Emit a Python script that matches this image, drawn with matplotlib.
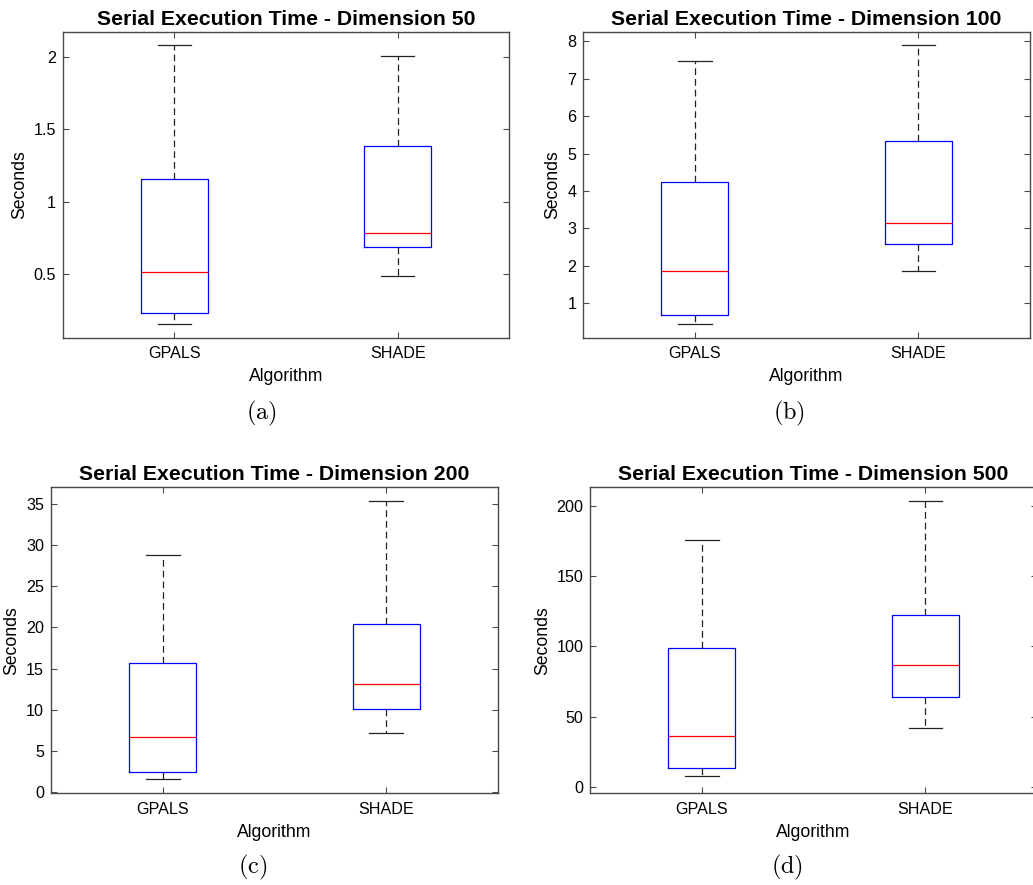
import matplotlib
matplotlib.use("Agg")
import matplotlib.pyplot as plt

# --- data (seconds) ---
algorithms = ["GPALS", "SHADE"]
dimensions = [50, 100, 200, 500]
panel_tags = ["(a)", "(b)", "(c)", "(d)"]

# per dimension: [GPALS, SHADE]
whisker_low = [[0.155, 0.484], [0.447, 1.855], [1.51, 7.11], [7.4, 41.6]]
q1 = [[0.23, 0.689], [0.696, 2.576], [2.40, 10.03], [13.3, 64.1]]
median = [[0.514, 0.785], [1.863, 3.154], [6.66, 13.08], [36.1, 86.7]]
q3 = [[1.155, 1.385], [4.24, 5.336], [15.64, 20.39], [98.8, 122.1]]
whisker_high = [[2.08, 2.01], [7.47, 7.893], [28.87, 35.4], [175.9, 203.8]]

y_ticks = [
    [0.5, 1, 1.5, 2],
    [1, 2, 3, 4, 5, 6, 7, 8],
    [0, 5, 10, 15, 20, 25, 30, 35],
    [0, 50, 100, 150, 200],
]
y_tick_labels = [
    ["0.5", "1", "1.5", "2"],
    ["1", "2", "3", "4", "5", "6", "7", "8"],
    ["0", "5", "10", "15", "20", "25", "30", "35"],
    ["0", "50", "100", "150", "200"],
]
y_limits = [(0.06, 2.175), (0.081, 8.257), (-0.19, 37.07), (-4.7, 213.3)]

# --- layout (figure fractions, from the reference pixels) ---
W, H = 1033, 885
axes_px = [  # left, top, right, bottom
    (62.7, 31.7, 509.3, 337.7),
    (583.3, 31.7, 1030.0, 337.7),
    (51.0, 487.3, 498.0, 793.3),
    (590.3, 487.3, 1037.0, 793.3),
]
tag_px = [(261.7, 413), (789.5, 413), (252.5, 867), (786.7, 867)]

plt.rcParams['font.family'] = ['Liberation Sans', 'DejaVu Sans']
spine_col = "#4a4a4a"

fig = plt.figure(figsize=(W / 100, H / 100), dpi=100)

for i, dim in enumerate(dimensions):
    l, t, r, b = axes_px[i]
    ax = fig.add_axes([l / W, 1 - b / H, (r - l) / W, (b - t) / H])

    stats = []
    for j, name in enumerate(algorithms):
        stats.append({
            "label": name,
            "whislo": whisker_low[i][j],
            "q1": q1[i][j],
            "med": median[i][j],
            "q3": q3[i][j],
            "whishi": whisker_high[i][j],
            "fliers": [],
        })

    ax.bxp(
        stats,
        positions=[1, 2],
        widths=0.3,
        capwidths=0.15,
        showfliers=False,
        boxprops=dict(color="#0000ff", linewidth=0.9),
        medianprops=dict(color="#ff0000", linewidth=0.9),
        whiskerprops=dict(color="#222222", linewidth=0.9, linestyle=(0, (5.4, 3.2))),
        capprops=dict(color="#222222", linewidth=0.9),
    )

    ax.set_xlim(0.5, 2.5)
    ax.set_ylim(*y_limits[i])
    ax.set_yticks(y_ticks[i])
    ax.set_yticklabels(y_tick_labels[i])
    ax.set_xticks([1, 2])
    ax.set_xticklabels(algorithms)

    ax.tick_params(direction="in", length=4, width=0.8, color=spine_col,
                   top=True, right=True, labelsize=11.6)
    ax.tick_params(axis="x", pad=6)
    ax.tick_params(axis="y", pad=5)
    for s in ax.spines.values():
        s.set_color(spine_col)
        s.set_linewidth(1.0)

    ax.set_title(f"Serial Execution Time - Dimension {dim}",
                 fontsize=15.3, fontweight="bold", pad=5)
    ax.set_xlabel("Algorithm", fontsize=12.7, labelpad=5)
    ax.set_ylabel("Seconds", fontsize=12.7, labelpad=4)

    tx, ty = tag_px[i]
    fig.text(tx / W, 1 - ty / H, r"$\mathrm{" + panel_tags[i] + "}$",
             fontsize=17.5, math_fontfamily="cm", ha="center", va="center")

fig.savefig("out.png", dpi=100)
